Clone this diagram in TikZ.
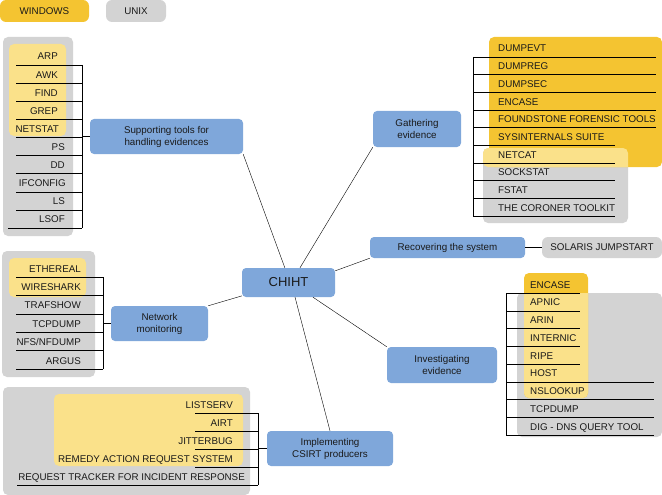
\documentclass[tikz,border=0pt]{standalone}
\usepackage{fontspec}
\setmainfont{Liberation Sans}
\definecolor{blu}{HTML}{7FA7DA}
\definecolor{grigio}{HTML}{D3D3D3}
\definecolor{oro}{HTML}{F4C431}
\definecolor{giallo}{HTML}{FAE18A}
\definecolor{testo}{HTML}{1A1A1A}
\begin{document}
\begin{tikzpicture}[x=1pt,y=-1pt,
    ramo/.style={fill=blu,rounded corners=4pt,align=center,inner sep=0pt,
      minimum height=35pt,font=\fontsize{9.8}{12}\selectfont,text=testo},
    voce/.style={inner sep=0pt,font=\fontsize{9.8}{12}\selectfont,text=testo},
    gruppo/.style={rounded corners=5pt}]
    \useasboundingbox (0,0) rectangle (662,495);
            %legenda
            \node[ramo,fill=oro,minimum width=89pt,minimum height=22pt,rounded corners=6pt] (win) at (44.5,11) {WINDOWS};
            \node[ramo,fill=grigio,minimum width=60pt,minimum height=22pt,rounded corners=6pt] (unix) at (136,11) {UNIX};
            %disegno sfondi
            \fill[grigio,gruppo] (3,37) rectangle (73,236);
            \fill[giallo,gruppo] (9,44) rectangle (66,136);
            \fill[grigio,gruppo] (483,148) rectangle (628,223);
            \fill[oro,gruppo] (489,37) rectangle (662,167);
            \begin{scope}
                \clip[gruppo] (483,148) rectangle (628,223);
                \fill[giallo,gruppo] (483,37) rectangle (662,167);
            \end{scope}
            \fill[grigio,gruppo] (2,251) rectangle (95,377);
            \fill[giallo,gruppo] (9,258) rectangle (86,297);
            \fill[grigio,gruppo] (517,293) rectangle (662,437);
            \fill[oro,gruppo] (524,273) rectangle (588,398);
            \begin{scope}
                \clip[gruppo] (517,293) rectangle (662,437);
                \fill[giallo,gruppo] (524,273) rectangle (588,398);
            \end{scope}
            \fill[grigio,gruppo] (3,387) rectangle (250,495);
            \fill[giallo,gruppo] (54,394) rectangle (243,466);
            %nodo centrale e rami
            \node[ramo,minimum width=93pt,minimum height=29pt,font=\fontsize{13}{15}\selectfont] (chiht) at (288.5,282.5) {CHIHT};
            \node[ramo,minimum width=153pt] (sup) at (166.5,136.5) {Supporting tools for\\handling evidences};
            \node[ramo,minimum width=88pt,minimum height=36pt] (gat) at (417,129) {Gathering\\evidence};
            \node[ramo,minimum width=155pt,minimum height=21pt] (rec) at (447.5,247.5) {Recovering the system};
            \node[ramo,fill=grigio,minimum width=120pt,minimum height=21pt,rounded corners=6pt] (sol) at (602,247.5) {SOLARIS JUMPSTART};
            \node[ramo,minimum width=110pt,minimum height=36pt] (inv) at (442,365) {Investigating\\evidence};
            \node[ramo,minimum width=126pt] (imp) at (330,448.5) {Implementing\\CSIRT producers};
            \node[ramo,minimum width=97pt] (net) at (159.5,323.5) {Network\\monitoring};
            %collegamenti
            \draw (chiht.104) -- (sup.south east);
            \draw (chiht.52) -- (gat.south west);
            \draw (chiht.14) -- (rec.south west);
            \draw (rec.east) -- (sol.west);
            \draw (chiht.-31) -- (inv.north west);
            \draw (chiht.-66) -- (imp.north);
            \draw (chiht.196) -- (net.north east);
            %strumenti di supporto
            \foreach \t/\r/\s [count=\i] in {ARP/58/16,AWK/58/16,FIND/58/16,GREP/58/16,NETSTAT/59/16,
                PS/65/16,DD/65/16,IFCONFIG/66/16,LS/65/16,LSOF/65/8}{
                \pgfmathsetmacro\y{65+(\i-1)*18.1}
                \node[voce,anchor=base east] (sup\i) at ({\r},{\y-5}) {\t};
                \draw ({\s},\y) -- (82,\y);
            }
            \coordinate (supa) at (82,65);
            \coordinate (supb) at (82,228);
            \draw (supa) -- (supb);
            \draw (sup.west) -- (sup.west -| supa);
            %raccolta prove
            \foreach \t/\e [count=\i] in {DUMPEVT/656,DUMPREG/656,DUMPSEC/656,ENCASE/656,
                FOUNDSTONE FORENSIC TOOLS/656,SYSINTERNALS SUITE/615,NETCAT/615,
                SOCKSTAT/615,FSTAT/615,THE CORONER TOOLKIT/615}{
                \pgfmathsetmacro\y{57+(\i-1)*17.67}
                \node[voce,anchor=base west] (gat\i) at (498,{\y-5}) {\t};
                \draw (473,\y) -- ({\e},\y);
            }
            \coordinate (gata) at (473,57);
            \coordinate (gatb) at (473,216);
            \draw (gata) -- (gatb);
            %monitoraggio rete
            \foreach \t [count=\i] in {ETHEREAL,WIRESHARK,TRAFSHOW,TCPDUMP,NFS/NFDUMP,ARGUS}{
                \pgfmathsetmacro\y{277+(\i-1)*18.4}
                \node[voce,anchor=base east] (net\i) at (81,{\y-5}) {\t};
                \draw (16,\y) -- (103,\y);
            }
            \coordinate (neta) at (103,277);
            \coordinate (netb) at (103,369);
            \draw (neta) -- (netb);
            \draw (net.west) -- (net.west -| neta);
            %indagine
            \foreach \t/\e [count=\i] in {ENCASE/580,APNIC/580,ARIN/580,INTERNIC/580,RIPE/580,
                HOST/654,NSLOOKUP/654,TCPDUMP/654,DIG - DNS QUERY TOOL/654}{
                \pgfmathsetmacro\y{293+(\i-1)*17.75}
                \node[voce,anchor=base west] (inv\i) at (530,{\y-5}) {\t};
                \draw (506,\y) -- ({\e},\y);
            }
            \coordinate (inva) at (506,293);
            \coordinate (invb) at (506,435);
            \draw (inva) -- (invb);
            %procedure CSIRT
            \foreach \t/\r/\s [count=\i] in {LISTSERV/233/195,AIRT/233/195,JITTERBUG/233/195,
                REMEDY ACTION REQUEST SYSTEM/233/195,REQUEST TRACKER FOR INCIDENT RESPONSE/245/17}{
                \pgfmathsetmacro\y{413+(\i-1)*18}
                \node[voce,anchor=base east] (imp\i) at ({\r},{\y-5}) {\t};
                \draw ({\s},\y) -- (258,\y);
            }
            \coordinate (impa) at (258,413);
            \coordinate (impb) at (258,485);
            \draw (impa) -- (impb);
            \draw (imp.west) -- (imp.west -| impa);
\end{tikzpicture}
\end{document}
